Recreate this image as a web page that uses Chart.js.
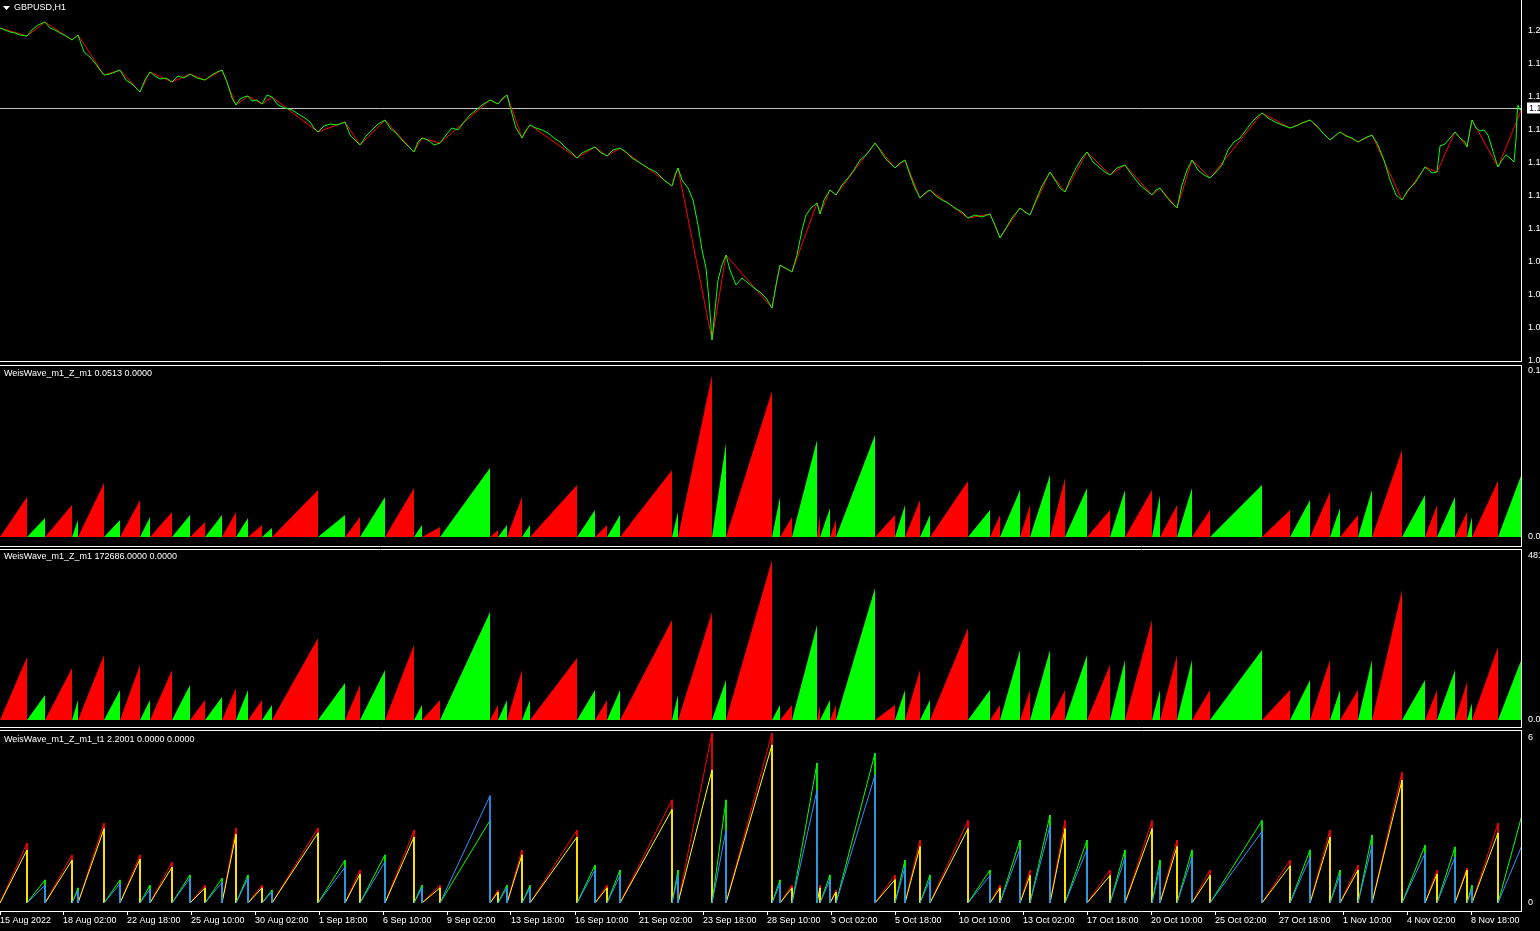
<!DOCTYPE html>
<html lang="en">
<head>
<meta charset="UTF-8">
<title>GBPUSD,H1 - Weis Wave</title>
<script src="https://cdn.jsdelivr.net/npm/chart.js"></script>
<style>
  html, body { margin: 0; padding: 0; background: #000; overflow: hidden; width: 1540px; height: 931px; }
  .pane { position: absolute; left: 0; width: 1600px; }
  .pane canvas { display: block; }
</style>
</head>
<body>
<div class="pane" style="top:0"><canvas id="pricePane" width="1600" height="368"></canvas></div>
<div class="pane" style="top:365px"><canvas id="volPane" width="1600" height="182"></canvas></div>
<div class="pane" style="top:549px"><canvas id="cumPane" width="1600" height="179"></canvas></div>
<div class="pane" style="top:730px"><canvas id="timePane" width="1600" height="201"></canvas></div>

<script>
// x axis: one bar per hour (H1), bar index from the left edge
const tickBars = [0, 63, 127, 191, 255, 319, 383, 447, 511, 575, 639, 703, 767, 831, 895, 959, 1023, 1087, 1151, 1215, 1279, 1343, 1407, 1471];
const tickLabels = ['15 Aug 2022', '18 Aug 02:00', '22 Aug 18:00', '25 Aug 10:00', '30 Aug 02:00', '1 Sep 18:00',
  '6 Sep 10:00', '9 Sep 02:00', '13 Sep 18:00', '16 Sep 10:00', '21 Sep 02:00', '23 Sep 18:00', '28 Sep 10:00',
  '3 Oct 02:00', '5 Oct 18:00', '10 Oct 10:00', '13 Oct 02:00', '17 Oct 18:00', '20 Oct 10:00', '25 Oct 02:00',
  '27 Oct 18:00', '1 Nov 10:00', '4 Nov 02:00', '8 Nov 18:00'];
const lastBar = 1522;

// GBPUSD close (sampled)
const priceBar = [0, 5, 10, 15, 20, 27, 32, 38, 45, 50, 55, 60, 66, 72, 78, 84, 90, 95, 100, 104, 110, 115, 120, 126, 132, 140,
  145, 150, 155, 160, 166, 172, 178, 184, 190, 197, 205, 212, 217, 222, 227, 232, 236, 240, 244, 248, 252, 257, 262, 267, 272,
  278, 285, 292, 300, 305, 310, 314, 318, 324, 330, 337, 345, 350, 355, 360, 366, 372, 378, 385, 390, 396, 402, 408, 414, 418,
  422, 428, 434, 440, 446, 452, 458, 464, 470, 476, 482, 490, 494, 498, 503, 507, 511, 516, 522, 526, 530, 536, 542, 548, 554,
  560, 566, 572, 577, 582, 588, 595, 600, 607, 613, 620, 626, 632, 640, 648, 656, 664, 672, 675, 678, 682, 688, 693, 698, 702,
  706, 709, 712, 715, 718, 722, 726, 730, 736, 742, 748, 754, 760, 766, 772, 776, 780, 785, 789, 792, 797, 802, 806, 811, 817,
  820, 824, 830, 836, 842, 848, 854, 860, 866, 870, 875, 880, 885, 890, 895, 900, 905, 910, 915, 920, 925, 930, 936, 942, 948,
  955, 962, 968, 975, 982, 990, 995, 1000, 1006, 1012, 1020, 1025, 1030, 1036, 1042, 1050, 1055, 1060, 1065, 1070, 1076, 1082,
  1087, 1093, 1100, 1105, 1110, 1117, 1125, 1132, 1140, 1146, 1152, 1156, 1160, 1165, 1171, 1177, 1182, 1187, 1192, 1198, 1204,
  1210, 1216, 1222, 1228, 1234, 1240, 1246, 1252, 1257, 1262, 1268, 1275, 1282, 1290, 1296, 1302, 1310, 1316, 1322, 1330, 1335,
  1340, 1346, 1352, 1358, 1365, 1372, 1378, 1384, 1390, 1396, 1402, 1408, 1415, 1420, 1425, 1432, 1437, 1440, 1445, 1450, 1455,
  1460, 1465, 1467, 1470, 1472, 1476, 1480, 1484, 1488, 1492, 1495, 1498, 1502, 1506, 1510, 1514, 1516, 1517, 1518, 1520, 1522];
const priceVal = [1.2135, 1.2125, 1.2115, 1.2110, 1.2100, 1.2095, 1.2125, 1.2150, 1.2165, 1.2135, 1.2125, 1.2110, 1.2095, 1.2075,
  1.2100, 1.2015, 1.1990, 1.1960, 1.1925, 1.1900, 1.1905, 1.1915, 1.1925, 1.1875, 1.1855, 1.1815, 1.1875, 1.1915, 1.1895, 1.1880,
  1.1885, 1.1865, 1.1895, 1.1885, 1.1905, 1.1885, 1.1875, 1.1900, 1.1915, 1.1925, 1.1865, 1.1785, 1.1750, 1.1780, 1.1790, 1.1795,
  1.1770, 1.1775, 1.1755, 1.1800, 1.1790, 1.1750, 1.1735, 1.1725, 1.1700, 1.1685, 1.1665, 1.1635, 1.1615, 1.1645, 1.1655, 1.1650,
  1.1665, 1.1600, 1.1575, 1.1550, 1.1595, 1.1625, 1.1655, 1.1675, 1.1635, 1.1610, 1.1575, 1.1545, 1.1515, 1.1565, 1.1585, 1.1575,
  1.1550, 1.1560, 1.1600, 1.1635, 1.1625, 1.1665, 1.1700, 1.1725, 1.1750, 1.1775, 1.1765, 1.1755, 1.1785, 1.1800, 1.1725, 1.1635,
  1.1585, 1.1625, 1.1650, 1.1635, 1.1625, 1.1610, 1.1585, 1.1565, 1.1535, 1.1510, 1.1485, 1.1510, 1.1525, 1.1540, 1.1515, 1.1495,
  1.1525, 1.1535, 1.1515, 1.1485, 1.1460, 1.1435, 1.1415, 1.1375, 1.1345, 1.1400, 1.1435, 1.1375, 1.1335, 1.1275, 1.1150, 1.1025,
  1.0935, 1.0775, 1.0575, 1.0725, 1.0875, 1.0950, 1.1000, 1.0925, 1.0850, 1.0885, 1.0860, 1.0835, 1.0815, 1.0785, 1.0735, 1.0850,
  1.0950, 1.0935, 1.0925, 1.0915, 1.1000, 1.1125, 1.1200, 1.1235, 1.1260, 1.1205, 1.1275, 1.1325, 1.1300, 1.1350, 1.1385, 1.1425,
  1.1475, 1.1500, 1.1525, 1.1560, 1.1525, 1.1485, 1.1460, 1.1435, 1.1460, 1.1475, 1.1400, 1.1335, 1.1285, 1.1310, 1.1325, 1.1295,
  1.1275, 1.1260, 1.1235, 1.1215, 1.1185, 1.1200, 1.1190, 1.1205, 1.1150, 1.1085, 1.1135, 1.1185, 1.1235, 1.1215, 1.1200, 1.1275,
  1.1345, 1.1415, 1.1375, 1.1335, 1.1315, 1.1375, 1.1435, 1.1485, 1.1515, 1.1465, 1.1435, 1.1415, 1.1400, 1.1435, 1.1450, 1.1400,
  1.1350, 1.1325, 1.1300, 1.1325, 1.1335, 1.1300, 1.1265, 1.1235, 1.1350, 1.1425, 1.1475, 1.1425, 1.1400, 1.1385, 1.1415, 1.1450,
  1.1525, 1.1565, 1.1585, 1.1625, 1.1665, 1.1690, 1.1710, 1.1685, 1.1665, 1.1650, 1.1635, 1.1645, 1.1660, 1.1675, 1.1650, 1.1615,
  1.1575, 1.1595, 1.1615, 1.1595, 1.1585, 1.1565, 1.1585, 1.1600, 1.1550, 1.1475, 1.1375, 1.1300, 1.1275, 1.1325, 1.1360, 1.1400,
  1.1440, 1.1410, 1.1415, 1.1545, 1.1555, 1.1585, 1.1615, 1.1585, 1.1565, 1.1540, 1.1625, 1.1675, 1.1635, 1.1620, 1.1625, 1.1600,
  1.1535, 1.1485, 1.1440, 1.1475, 1.1500, 1.1485, 1.1465, 1.1575, 1.1700, 1.1750, 1.1725, 1.1735];
const lastPrice = 1.1735;
const priceTicks = [1.2120, 1.1955, 1.1790, 1.1625, 1.1460, 1.1295, 1.1130, 1.0965, 1.0800, 1.0635, 1.0470];

// Weis waves: bar where each wave ends (first wave is a down wave, then alternating)
const waveEnd = [27, 45, 72, 78, 104, 120, 140, 150, 172, 190, 205, 222, 236, 248, 262, 272, 318, 345, 360, 385, 414, 422, 440,
  490, 498, 507, 522, 530, 577, 595, 607, 620, 672, 678, 712, 726, 772, 780, 792, 817, 820, 830, 836, 875, 895, 905, 920, 930,
  968, 990, 1000, 1020, 1030, 1050, 1065, 1087, 1110, 1125, 1152, 1160, 1177, 1192, 1210, 1262, 1290, 1310, 1330, 1340, 1358,
  1372, 1402, 1425, 1437, 1455, 1467, 1472, 1498, 1522];
const firstWaveDown = true;
// wave volume per point (pane 2)
const waveVol = [0.0241, 0.0114, 0.0193, 0.0102, 0.0325, 0.0102, 0.0223, 0.0120, 0.0151, 0.0133, 0.0090, 0.0133, 0.0151, 0.0114,
  0.0072, 0.0054, 0.0283, 0.0133, 0.0120, 0.0241, 0.0295, 0.0072, 0.0060, 0.0416, 0.0042, 0.0072, 0.0241, 0.0072, 0.0313, 0.0163,
  0.0072, 0.0133, 0.0404, 0.0151, 0.0976, 0.0566, 0.0880, 0.0241, 0.0120, 0.0584, 0.0133, 0.0175, 0.0102, 0.0614, 0.0133, 0.0193,
  0.0223, 0.0133, 0.0337, 0.0163, 0.0133, 0.0283, 0.0193, 0.0373, 0.0355, 0.0295, 0.0163, 0.0283, 0.0283, 0.0253, 0.0193, 0.0295,
  0.0163, 0.0313, 0.0163, 0.0223, 0.0271, 0.0175, 0.0133, 0.0283, 0.0524, 0.0253, 0.0193, 0.0241, 0.0151, 0.0120, 0.0337, 0.0386];
const volTicks = [0, 0.1003];
// cumulative wave volume (pane 3)
const waveCum = [185000, 73400, 152700, 58700, 190800, 88100, 161500, 58700, 146800, 102800, 58700, 67500, 94000, 88100, 58700,
  44000, 240800, 108600, 102800, 146800, 220200, 44000, 58700, 317100, 44000, 58700, 146800, 58700, 182000, 88100, 58700, 88100,
  293600, 73400, 317100, 117400, 469800, 44000, 44000, 278900, 44000, 58700, 44000, 387600, 44000, 88100, 146800, 58700, 270100,
  88100, 44000, 205500, 88100, 205500, 88100, 190800, 161500, 176200, 293600, 88100, 190800, 176200, 88100, 205500, 88100, 117400,
  176200, 88100, 88100, 176200, 381700, 117400, 88100, 146800, 111600, 49900, 214300, 182000];
const cumTicks = [0, 481500];
// wave duration (pane 4): main line and second line
const waveTime = [2.18, 0.84, 1.75, 0.55, 2.91, 0.84, 1.75, 0.65, 1.49, 1.02, 0.65, 0.90, 2.73, 1.02, 0.65, 0.47, 2.73, 1.56,
  1.20, 1.75, 2.65, 0.65, 0.65, 3.00, 0.47, 0.65, 1.93, 0.65, 2.65, 1.38, 0.65, 1.20, 3.75, 1.20, 6.18, 3.75, 6.18, 0.84, 0.65,
  5.09, 0.65, 1.02, 0.47, 5.45, 1.02, 1.56, 2.29, 1.02, 3.00, 1.20, 0.65, 2.29, 1.20, 3.20, 3.00, 2.29, 1.20, 1.93, 3.00, 1.56,
  2.29, 1.93, 1.20, 3.00, 1.56, 1.93, 2.65, 1.20, 1.38, 2.47, 4.76, 2.10, 1.20, 2.04, 1.27, 0.65, 2.90, 3.20];
const waveTime2 = [1.93, 0.65, 1.56, 0.45, 2.70, 0.70, 1.60, 0.50, 1.30, 0.90, 0.55, 0.75, 2.50, 0.90, 0.55, 0.40, 2.55, 1.30,
  1.05, 1.50, 2.40, 0.55, 0.55, 3.90, 0.40, 0.55, 1.75, 0.55, 2.40, 1.20, 0.55, 1.00, 3.40, 1.00, 4.84, 2.65, 5.75, 0.70, 0.55,
  4.10, 0.55, 0.85, 0.40, 4.65, 0.85, 1.30, 2.05, 0.85, 2.70, 1.00, 0.55, 1.95, 1.00, 2.80, 2.70, 1.95, 1.00, 1.65, 2.70, 1.30,
  2.05, 1.65, 1.00, 2.60, 1.35, 1.65, 2.40, 1.00, 1.20, 2.10, 4.47, 1.80, 1.05, 1.67, 1.20, 0.50, 2.55, 2.10];
const timeTicks = [0, 6];

const RED = '#ff0000', LIME = '#00ff00', YELLOW = '#ffff00', BLUE = '#2f8fff', WHITE = '#ffffff';
const axisFont = { family: 'Liberation Sans', size: 9 };

function isDown(i) { return (i % 2 === 0) === firstWaveDown; }

// area points for the waves of one direction
function waveArea(values, down) {
  const pts = [];
  let start = 0;
  waveEnd.forEach((end, i) => {
    if (isDown(i) === down) pts.push({ x: start, y: 0 }, { x: end, y: values[i] }, { x: end, y: 0 });
    start = end;
  });
  return pts;
}

// line points for the waves of one direction, broken between waves
function waveLine(values, down) {
  const pts = [];
  let start = 0;
  waveEnd.forEach((end, i) => {
    if (isDown(i) === down) pts.push({ x: start, y: 0 }, { x: end, y: values[i] }, { x: end, y: 0 }, { x: end, y: null });
    start = end;
  });
  return pts;
}

function priceAt(bar) {
  let k = 0;
  priceBar.forEach((b, i) => { if (Math.abs(b - bar) < Math.abs(priceBar[k] - bar)) k = i; });
  return priceVal[k];
}

const pricePts = priceBar.map((b, i) => ({ x: b, y: priceVal[i] }));
const zigzagPts = [{ x: 0, y: priceVal[0] }].concat(waveEnd.map(b => ({ x: b, y: priceAt(b) })));

const framePlugin = {
  id: 'frame',
  afterDraw(chart, args, opts) {
    const { ctx, chartArea: a } = chart;
    ctx.save();
    ctx.strokeStyle = WHITE;
    ctx.lineWidth = 1;
    ctx.beginPath();
    if (opts.top) { ctx.moveTo(0, a.top + 0.5); ctx.lineTo(a.right, a.top + 0.5); }
    ctx.moveTo(0, a.bottom - 0.5); ctx.lineTo(a.right, a.bottom - 0.5);
    ctx.moveTo(a.right - 0.5, 0); ctx.lineTo(a.right - 0.5, a.bottom);
    ctx.stroke();
    ctx.fillStyle = WHITE;
    ctx.font = '9px "Liberation Sans"';
    ctx.textBaseline = 'middle';
    let tx = 4;
    if (opts.arrow) {
      ctx.beginPath();
      ctx.moveTo(3, 6); ctx.lineTo(10, 6); ctx.lineTo(6.5, 10); ctx.closePath();
      ctx.fill();
      tx = 14;
    }
    ctx.fillText(opts.title, tx, opts.ty);
    ctx.restore();
  }
};

const bidLinePlugin = {
  id: 'bidLine',
  beforeDatasetsDraw(chart) {
    const { ctx, chartArea: a, scales } = chart;
    const y = Math.round(scales.y.getPixelForValue(lastPrice)) + 0.5;
    ctx.save();
    ctx.strokeStyle = '#c0c0c0';
    ctx.lineWidth = 1;
    ctx.beginPath(); ctx.moveTo(0, y); ctx.lineTo(a.right, y); ctx.stroke();
    ctx.fillStyle = WHITE;
    ctx.fillRect(a.right + 5, y - 6, 60, 11);
    ctx.fillStyle = '#000';
    ctx.font = '9px "Liberation Sans"';
    ctx.textBaseline = 'middle';
    ctx.fillText(lastPrice.toFixed(4), a.right + 7, y);
    ctx.restore();
  }
};

function yAxis(min, max, ticks, fmt) {
  return {
    position: 'right', min: min, max: max,
    afterBuildTicks: s => { s.ticks = ticks.map(v => ({ value: v })); },
    ticks: { color: WHITE, font: axisFont, padding: 6, autoSkip: false, callback: v => fmt(v) },
    grid: { display: false, drawTicks: false },
    border: { display: false },
    afterFit: s => { s.width = 78; s.paddingTop = 0; s.paddingBottom = 0; }
  };
}

function xAxis(show) {
  if (!show) return { type: 'linear', min: 0, max: lastBar, display: false };
  return {
    type: 'linear', min: 0, max: lastBar, position: 'bottom',
    afterBuildTicks: s => { s.ticks = tickBars.map(v => ({ value: v })); },
    ticks: { color: WHITE, font: axisFont, align: 'start', padding: 0, maxRotation: 0, autoSkip: false,
      callback: (v, i) => tickLabels[i] },
    grid: { display: true, drawOnChartArea: false, drawTicks: true, tickLength: 3, color: WHITE },
    border: { display: false },
    afterFit: s => { s.height = 19; s.paddingLeft = 0; s.paddingRight = 0; }
  };
}

function paneOptions(y, showX, frame, pad) {
  return {
    responsive: false, animation: false, events: [],
    layout: { padding: { bottom: pad || 0 } },
    elements: { point: { radius: 0 }, line: { tension: 0, borderWidth: 1 } },
    plugins: { legend: { display: false }, tooltip: { enabled: false }, frame: frame },
    scales: { x: xAxis(showX), y: y }
  };
}

function areaSet(values, down) {
  return { data: waveArea(values, down), borderColor: 'transparent', borderWidth: 0,
    backgroundColor: down ? RED : LIME, fill: 'origin' };
}

function lineSet(values, down, color) {
  return { data: waveLine(values, down), borderColor: color, borderWidth: 1, fill: false, spanGaps: false };
}

new Chart(document.getElementById('pricePane'), {
  type: 'line',
  data: { datasets: [
    { data: pricePts, borderColor: LIME, borderWidth: 1, fill: false },
    { data: zigzagPts, borderColor: RED, borderWidth: 1, fill: false }
  ] },
  options: paneOptions(yAxis(1.0465, 1.2275, priceTicks, v => v.toFixed(4)), false,
    { title: 'GBPUSD,H1', ty: 8, top: false, arrow: true }, 6),
  plugins: [framePlugin, bidLinePlugin]
});

new Chart(document.getElementById('volPane'), {
  type: 'line',
  data: { datasets: [areaSet(waveVol, true), areaSet(waveVol, false)] },
  options: paneOptions(yAxis(-0.006024, 0.103614, volTicks, v => v.toFixed(4)), false,
    { title: 'WeisWave_m1_Z_m1 0.0513 0.0000', ty: 9, top: true }),
  plugins: [framePlugin]
});

new Chart(document.getElementById('cumPane'), {
  type: 'line',
  data: { datasets: [areaSet(waveCum, true), areaSet(waveCum, false)] },
  options: paneOptions(yAxis(-23488, 502056, cumTicks, v => v.toFixed(4)), false,
    { title: 'WeisWave_m1_Z_m1 172686.0000 0.0000', ty: 8, top: true }),
  plugins: [framePlugin]
});

new Chart(document.getElementById('timePane'), {
  type: 'line',
  data: { datasets: [
    lineSet(waveTime2, false, BLUE),
    lineSet(waveTime, false, LIME),
    lineSet(waveTime2, true, YELLOW),
    lineSet(waveTime, true, RED)
  ] },
  options: paneOptions(yAxis(-0.3273, 6.2909, timeTicks, v => String(v)), true,
    { title: 'WeisWave_m1_Z_m1_t1 2.2001 0.0000 0.0000', ty: 10, top: true }),
  plugins: [framePlugin]
});
</script>
</body>
</html>
